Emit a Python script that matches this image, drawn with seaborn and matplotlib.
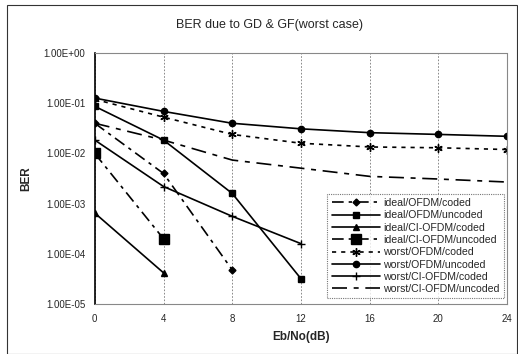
import numpy as np
import pandas as pd
import matplotlib
matplotlib.use("Agg")
import matplotlib.pyplot as plt
import seaborn as sns
from matplotlib.patches import Rectangle
from matplotlib.ticker import FixedLocator, FuncFormatter

# ---- data ----
EBNO = [0, 4, 8, 12, 16, 20, 24]

ideal_ofdm_coded = [4.0e-2, 4.0e-3, 4.8e-5]
ideal_ofdm_uncoded = [8.7e-2, 1.85e-2, 1.6e-3, 3.2e-5]
ideal_ci_coded = [6.5e-4, 4.2e-5]
ideal_ci_uncoded = [1.0e-2, 2.0e-4]
worst_ofdm_coded = [1.2e-1, 5.3e-2, 2.4e-2, 1.6e-2, 1.35e-2, 1.3e-2, 1.2e-2]
worst_ofdm_uncoded = [1.27e-1, 6.9e-2, 4.0e-2, 3.1e-2, 2.6e-2, 2.4e-2, 2.2e-2]
worst_ci_coded = [1.85e-2, 2.2e-3, 5.6e-4, 1.6e-4]
worst_ci_uncoded = [4.0e-2, 1.85e-2, 7.4e-3, 5.1e-3, 3.5e-3, 3.1e-3, 2.7e-3]

SERIES = [
    ("ideal/OFDM/coded", ideal_ofdm_coded, "D", 3.5, (0, (7, 3, 2, 3))),
    ("ideal/OFDM/uncoded", ideal_ofdm_uncoded, "s", 4.5, ""),
    ("ideal/CI-OFDM/coded", ideal_ci_coded, "^", 4.5, ""),
    ("ideal/CI-OFDM/uncoded", ideal_ci_uncoded, "s", 7, (0, (7, 3, 2, 3))),
    ("worst/OFDM/coded", worst_ofdm_coded, (6, 2, 0), 6, (0, (2.5, 3))),
    ("worst/OFDM/uncoded", worst_ofdm_uncoded, "o", 4.5, ""),
    ("worst/CI-OFDM/coded", worst_ci_coded, "+", 6, ""),
    ("worst/CI-OFDM/uncoded", worst_ci_uncoded, None, 0, (0, (9, 4, 3, 4))),
]

sns.set_theme(style="white")
plt.rcParams["font.family"] = ["Liberation Sans", "DejaVu Sans"]

fig = plt.figure(figsize=(5.18, 3.54), dpi=100)
# outer chart border
fig.patches.append(Rectangle((0.014, 0.0), 0.985, 0.985, transform=fig.transFigure,
                             fill=False, edgecolor="#333333", linewidth=0.8))
ax = fig.add_axes([0.183, 0.141, 0.796, 0.709])

for name, vals, mk, ms, ls in SERIES:
    df = pd.DataFrame({"x": EBNO[:len(vals)], "y": vals})
    sns.lineplot(data=df, x="x", y="y", ax=ax, color="black", linewidth=1.2,
                 marker=mk, markersize=ms, markeredgecolor="black",
                 markeredgewidth=1.0, label=name, linestyle="-" if ls == "" else ls)

ax.set_yscale("log")
ax.set_ylim(1e-5, 1)
ax.set_xlim(0, 24)
ax.xaxis.set_major_locator(FixedLocator(EBNO))
ax.yaxis.set_major_locator(FixedLocator([1e-5, 1e-4, 1e-3, 1e-2, 1e-1, 1]))
ax.yaxis.set_minor_locator(FixedLocator([]))

def sci(v, pos):
    e = int(round(np.log10(v)))
    return "1.00E%s%02d" % ("+" if e >= 0 else "-", abs(e))

ax.yaxis.set_major_formatter(FuncFormatter(sci))
ax.tick_params(axis="both", length=0, labelsize=7, pad=7)
ax.grid(axis="x", color="#777777", linestyle=(0, (2, 2)), linewidth=0.6)
ax.grid(axis="y", visible=False)

for s in ["top", "right", "bottom"]:
    ax.spines[s].set_color("#888888")
    ax.spines[s].set_linestyle((0, (1, 1)))
    ax.spines[s].set_linewidth(0.8)
ax.spines["left"].set_color("black")
ax.spines["left"].set_linewidth(1.2)

ax.set_xlabel("Eb/No(dB)", fontsize=8.5, fontweight="bold", labelpad=5)
ax.set_ylabel("BER", fontsize=8.5, fontweight="bold", labelpad=8)
fig.suptitle("BER due to GD & GF(worst case)", x=0.52, y=0.945, fontsize=9)

leg = ax.legend(loc="lower right", fontsize=7.6, frameon=True, fancybox=False,
                handlelength=4.6, borderaxespad=0.3, labelspacing=0.22,
                handletextpad=0.3, borderpad=0.4, bbox_to_anchor=(1.0, 0.01))
leg.get_frame().set_edgecolor("#555555")
leg.get_frame().set_linestyle((0, (1, 1)))
leg.get_frame().set_linewidth(0.8)

fig.savefig("out.png", dpi=100)
